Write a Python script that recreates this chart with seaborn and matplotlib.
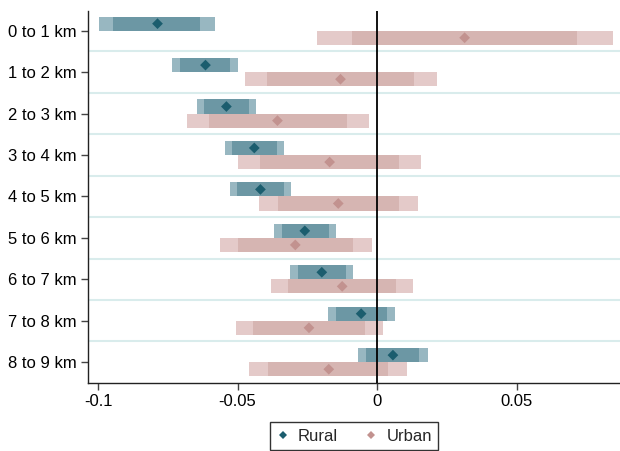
import numpy as np
import pandas as pd
import matplotlib
matplotlib.use("Agg")
import matplotlib.pyplot as plt
import seaborn as sns

# Distance bands
bands = ["0 to 1 km", "1 to 2 km", "2 to 3 km", "3 to 4 km", "4 to 5 km",
         "5 to 6 km", "6 to 7 km", "7 to 8 km", "8 to 9 km"]

# Rural: point estimates, inner (90%) and outer (95%) intervals
rural_est = [-0.0787, -0.0615, -0.0540, -0.0440, -0.0418, -0.0259, -0.0198, -0.0057, 0.0057]
rural_lo90 = [-0.0945, -0.0706, -0.0620, -0.0520, -0.0502, -0.0342, -0.0284, -0.0148, -0.0038]
rural_hi90 = [-0.0633, -0.0526, -0.0458, -0.0360, -0.0334, -0.0172, -0.0111, 0.0036, 0.0152]
rural_lo95 = [-0.0996, -0.0735, -0.0645, -0.0545, -0.0527, -0.0369, -0.0311, -0.0177, -0.0068]
rural_hi95 = [-0.0580, -0.0497, -0.0433, -0.0335, -0.0309, -0.0147, -0.0085, 0.0065, 0.0182]

# Urban: point estimates, inner (90%) and outer (95%) intervals
urban_est = [0.0314, -0.0131, -0.0357, -0.0170, -0.0139, -0.0293, -0.0125, -0.0244, -0.0173]
urban_lo90 = [-0.0089, -0.0393, -0.0602, -0.0419, -0.0356, -0.0499, -0.0319, -0.0444, -0.0391]
urban_hi90 = [0.0717, 0.0132, -0.0108, 0.0080, 0.0079, -0.0085, 0.0069, -0.0043, 0.0041]
urban_lo95 = [-0.0215, -0.0474, -0.0681, -0.0497, -0.0424, -0.0564, -0.0380, -0.0506, -0.0459]
urban_hi95 = [0.0845, 0.0214, -0.0030, 0.0159, 0.0146, -0.0019, 0.0129, 0.0020, 0.0109]

xticks = [-0.1, -0.05, 0, 0.05]
xticklabels = ["-0.1", "-0.05", "0", "0.05"]

sns.set_style("white")
plt.rcParams["font.family"] = ["Liberation Sans", "DejaVu Sans"]

groups = {
    "Rural": dict(est=rural_est, lo90=rural_lo90, hi90=rural_hi90, lo95=rural_lo95, hi95=rural_hi95,
                  offset=-0.17, c_in="#6c97a4", c_out="#98b7c1", c_pt="#1b5d6e"),
    "Urban": dict(est=urban_est, lo90=urban_lo90, hi90=urban_hi90, lo95=urban_lo95, hi95=urban_hi95,
                  offset=0.17, c_in="#d6b5b2", c_out="#e4cac9", c_pt="#c2928f"),
}

rows = []
for name, g in groups.items():
    for i, b in enumerate(bands):
        rows.append(dict(group=name, band=b, pos=i + g["offset"], est=g["est"][i],
                         lo90=g["lo90"][i], hi90=g["hi90"][i],
                         lo95=g["lo95"][i], hi95=g["hi95"][i]))
df = pd.DataFrame(rows)

fig = plt.figure(figsize=(6.2, 4.51), dpi=100)
ax = fig.add_axes([0.142, 0.151, 0.858, 0.825])

bar_h = 0.34
for name, g in groups.items():
    d = df[df.group == name]
    ax.barh(d["pos"], d["hi95"] - d["lo95"], left=d["lo95"], height=bar_h,
            color=g["c_out"], linewidth=0, zorder=2)
    ax.barh(d["pos"], d["hi90"] - d["lo90"], left=d["lo90"], height=bar_h,
            color=g["c_in"], linewidth=0, zorder=3)

palette = {name: g["c_pt"] for name, g in groups.items()}
sns.scatterplot(data=df, x="est", y="pos", hue="group", palette=palette,
                marker="D", s=30, linewidth=0, ax=ax, zorder=5)

# Separators between distance bands
for k in range(len(bands) - 1):
    ax.axhline(k + 0.5, color="#d9ecec", linewidth=1.5, zorder=1)

ax.axvline(0, color="black", linewidth=1.3, zorder=4)

ax.set_xlim(-0.1036, 0.0871)
ax.set_ylim(len(bands) - 0.5, -0.48)
ax.set_yticks(range(len(bands)))
ax.set_yticklabels(bands)
ax.set_xticks(xticks)
ax.set_xticklabels(xticklabels)
ax.set_xlabel("")
ax.set_ylabel("")

for side in ["top", "right"]:
    ax.spines[side].set_visible(False)
for side in ["left", "bottom"]:
    ax.spines[side].set_color("#222222")
    ax.spines[side].set_linewidth(1.0)
ax.tick_params(axis="both", which="both", direction="out", length=5, width=1,
               color="#444444", labelsize=12, labelcolor="black", pad=3,
               left=True, bottom=True)

handles, labels = ax.get_legend_handles_labels()
leg = ax.legend(handles, labels, loc="upper center", bbox_to_anchor=(0.5, -0.105),
                borderaxespad=0, ncol=2, frameon=True, fancybox=False, fontsize=12,
                handlelength=0.8, handletextpad=0.5, columnspacing=1.6,
                borderpad=0.4, markerscale=0.8)
leg.get_frame().set_edgecolor("black")
leg.get_frame().set_linewidth(1.0)

fig.savefig("out.png", dpi=100)
